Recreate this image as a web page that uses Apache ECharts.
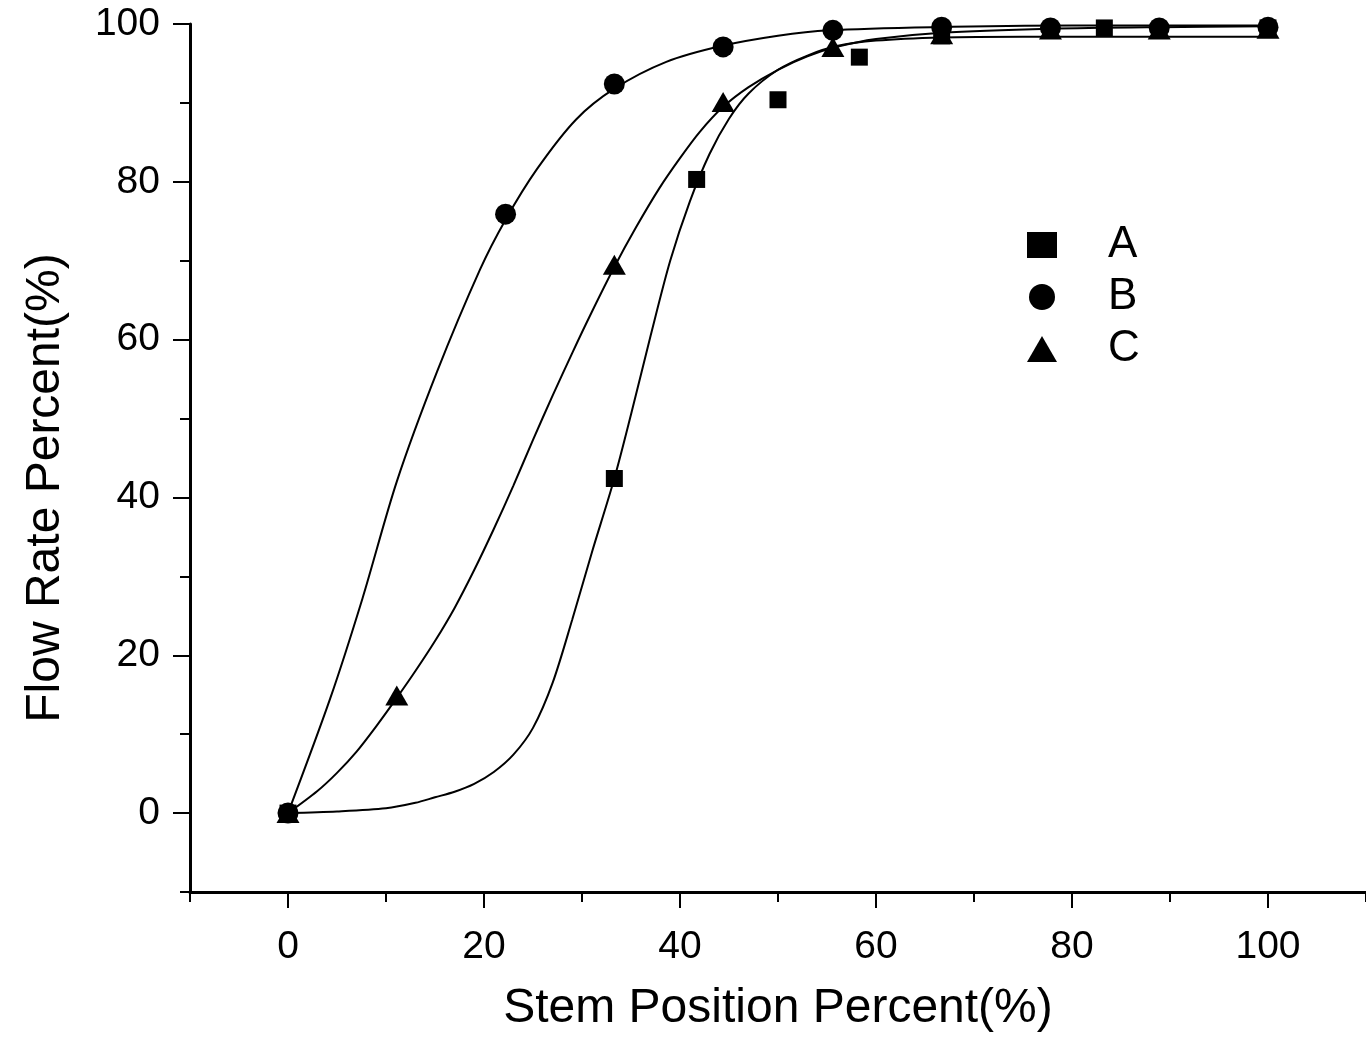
<!DOCTYPE html>
<html>
<head>
<meta charset="utf-8">
<script src="https://cdn.jsdelivr.net/npm/echarts@6/dist/echarts.min.js"></script>
<style>
  html, body { margin: 0; padding: 0; background: #fff; }
  #chart { width: 1366px; height: 1038px; }
</style>
</head>
<body>
<div id="chart"></div>
<script>
// ---- Data ----
const seriesNames = ['A', 'B', 'C'];

// Measured points (stem position %, flow rate %)
const pointsA = [[0,0],[33.3,42.4],[41.7,80.3],[50,90.4],[58.3,95.8],[66.7,98.5],[83.3,99.5],[100,99.5]];
const pointsB = [[0,0],[22.2,75.9],[33.3,92.4],[44.4,97.1],[55.6,99.2],[66.7,99.6],[77.8,99.5],[88.9,99.5],[100,99.6]];
const pointsC = [[0,0],[11.1,14.9],[33.3,69.5],[44.4,90.1],[55.6,97.1],[66.7,98.7],[77.8,99.3],[88.9,99.3],[100,99.4]];

// Fitted curves
const curveA = [[0,0],[5,0.2],[10,0.6],[13,1.3],[15,2.0],[17,2.7],[19,3.7],[21,5.2],[23,7.4],[25,10.8],[27,16.5],[29,24.5],[31,33],[33.3,42.4],[35,50.5],[37,60.5],[39,70],[41,77.5],[43,83.5],[45,88],[47,91.2],[50,94.2],[53,96],[56,97.2],[60,97.9],[66.7,98.3],[75,98.4],[100,98.4]];
const curveB = [[0,0],[4.3,14.5],[7.6,27.2],[11.1,42],[15.2,55.9],[19.6,68.9],[22.2,75.2],[25.4,81.6],[29.4,87.9],[33.3,91.8],[38.6,95.2],[44.2,97.2],[50,98.5],[55.2,99.2],[65.7,99.6],[80,99.8],[100,99.8]];
const curveC = [[0,0],[3,2.8],[5,5.1],[7,7.8],[9,11],[11.1,14.6],[13,18],[15,21.8],[17,26],[19,30.8],[21,36],[23,41.5],[25,47.3],[27,52.9],[29,58.3],[31,63.5],[33.3,69.2],[35.5,74.2],[37.9,79.2],[40,83],[42,86.3],[44.4,89.5],[47,92],[50,94.2],[53,95.9],[56,97.1],[60,98.1],[66.7,98.9],[77.8,99.4],[88.9,99.6],[100,99.7]];

// Axis ticks
const xMajorTicks = [0,20,40,60,80,100];
const xMinorTicks = [-10,10,30,50,70,90,110];
const yMajorTicks = [0,20,40,60,80,100];
const yMinorTicks = [-10,10,30,50,70,90];

const xTitle = 'Stem Position Percent(%)';
const yTitle = 'Flow Rate Percent(%)';

// ---- Chart ----
const FONT = '"Liberation Sans", Arial, Helvetica, sans-serif';
const chart = echarts.init(document.getElementById('chart'), null, { renderer: 'canvas' });

const lineSeries = (data) => ({
  type: 'line', data: data, smooth: 0.3,
  showSymbol: false, symbol: 'none', silent: true,
  lineStyle: { color: '#000', width: 2 }, z: 2,
  xAxisIndex: 0, yAxisIndex: 0
});
const scatterSeries = (name, data, symbol, size) => ({
  type: 'scatter', name: name, data: data, symbol: symbol, symbolSize: size,
  itemStyle: { color: '#000', opacity: 1 }, z: 3,
  xAxisIndex: 0, yAxisIndex: 0
});

chart.setOption({
  animation: false,
  backgroundColor: '#fff',
  textStyle: { fontFamily: FONT, color: '#000' },
  grid: { left: 190, top: 24, width: 1178, height: 870, containLabel: false },
  xAxis: [
    {
      type: 'value', min: -10, max: 110, position: 'bottom',
      axisLine: { show: true, onZero: false, lineStyle: { color: '#000', width: 3 } },
      axisTick: { show: true, customValues: xMajorTicks, length: 16, inside: false, lineStyle: { color: '#000', width: 2 } },
      axisLabel: { show: true, customValues: xMajorTicks, fontSize: 39, color: '#000', margin: 36, fontFamily: FONT },
      splitLine: { show: false },
      name: xTitle, nameLocation: 'middle', nameGap: 93,
      nameTextStyle: { fontSize: 48, color: '#000', fontFamily: FONT }
    },
    {
      type: 'value', min: -10, max: 110, position: 'bottom',
      axisLine: { show: false, onZero: false },
      axisTick: { show: true, customValues: xMinorTicks, length: 10, lineStyle: { color: '#000', width: 2 } },
      axisLabel: { show: false },
      splitLine: { show: false }
    }
  ],
  yAxis: [
    {
      type: 'value', min: -10, max: 100, position: 'left',
      axisLine: { show: true, onZero: false, lineStyle: { color: '#000', width: 3 } },
      axisTick: { show: true, customValues: yMajorTicks, length: 17, lineStyle: { color: '#000', width: 2 } },
      axisLabel: { show: true, customValues: yMajorTicks, fontSize: 39, color: '#000', margin: 30, fontFamily: FONT },
      splitLine: { show: false }
    },
    {
      type: 'value', min: -10, max: 100, position: 'left',
      axisLine: { show: false, onZero: false },
      axisTick: { show: true, customValues: yMinorTicks, length: 10, lineStyle: { color: '#000', width: 2 } },
      axisLabel: { show: false },
      splitLine: { show: false }
    }
  ],
  legend: {
    data: seriesNames,
    orient: 'vertical', left: 1022, top: 218,
    itemWidth: 30, itemHeight: 26, itemGap: 8,
    textStyle: { fontSize: 44, color: '#000', fontFamily: FONT, padding: [0, 0, 0, 46] },
    selectedMode: false
  },
  graphic: [{
    type: 'text',
    x: 46, y: 488,
    rotation: Math.PI / 2,
    style: { text: yTitle, fontSize: 48, fill: '#000', fontFamily: FONT, textAlign: 'center', textVerticalAlign: 'middle' }
  }],
  series: [
    lineSeries(curveA), lineSeries(curveB), lineSeries(curveC),
    scatterSeries('A', pointsA, 'rect', 17),
    scatterSeries('B', pointsB, 'circle', 21),
    scatterSeries('C', pointsC, 'triangle', [23, 20])
  ]
});
</script>
</body>
</html>
